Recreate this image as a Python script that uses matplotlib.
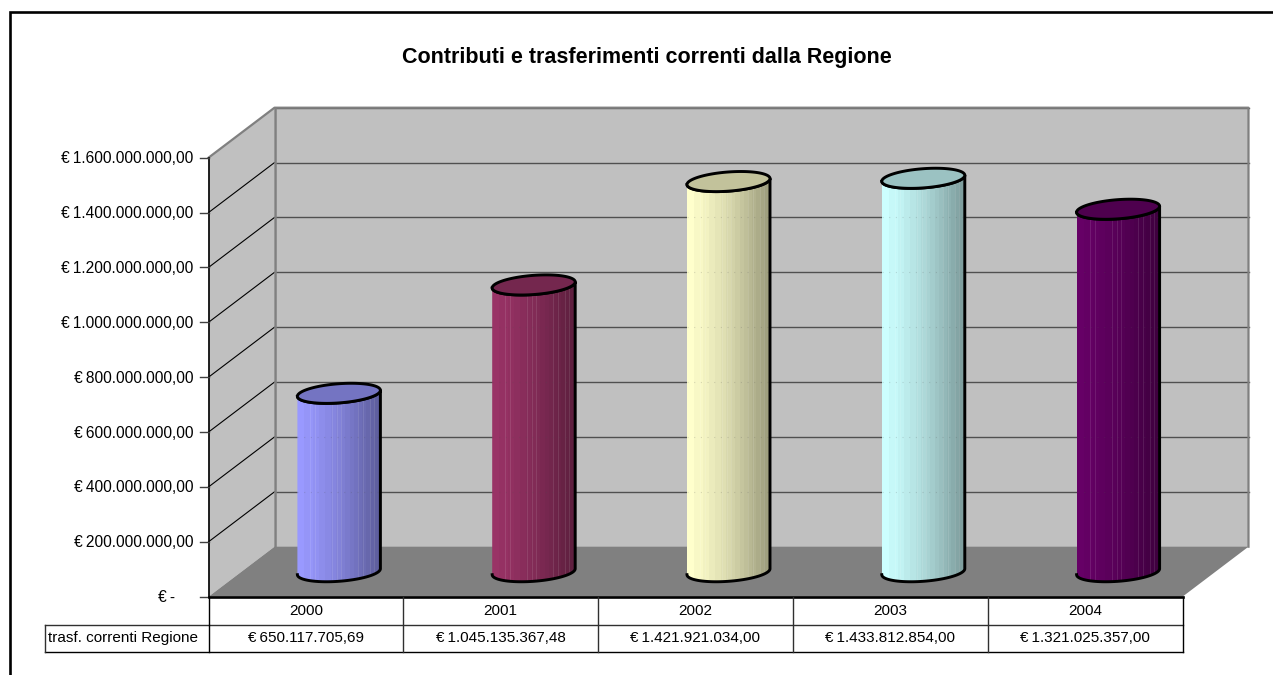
import numpy as np
import matplotlib
matplotlib.use('Agg')
import matplotlib.pyplot as plt
from matplotlib.patches import Polygon, PathPatch
from matplotlib.path import Path
from matplotlib.lines import Line2D

plt.rcParams['font.family'] = ['Liberation Sans', 'DejaVu Sans']

title = 'Contributi e trasferimenti correnti dalla Regione'
years = ['2000', '2001', '2002', '2003', '2004']
values = [650117705.69, 1045135367.48, 1421921034.00, 1433812854.00, 1321025357.00]
series_name = 'trasf. correnti Regione'
bar_colors = ['#9999FF', '#993366', '#FFFFCC', '#CCFFFF', '#660066']
tick_values = [0, 200e6, 400e6, 600e6, 800e6, 1000e6, 1200e6, 1400e6, 1600e6]
stripes = [.16, .22, .43, .49, .54, .74, .80, .88, .93]

W, H = 1273, 675
# front plane of the 3d box, in pixels
LEFT, RIGHT, TOP, BOTTOM = 208.5, 1182.5, 157.7, 596.7
XPX = 5 / (RIGHT - LEFT)
YPX = 1.6e9 / (BOTTOM - TOP)
DX, DY = 66 * XPX, 50 * YPX

fig = plt.figure(figsize=(W / 100, H / 100), dpi=100)
ax = fig.add_axes([LEFT / W, 1 - BOTTOM / H, (RIGHT - LEFT) / W, (BOTTOM - TOP) / H])
ax.axis('off')
top = 1.6e9


def euro(v):
    s = f'{v:,.2f}'.replace(',', 'X').replace('.', ',').replace('X', '.')
    return '€\u2009' + s


def shaded(color, f):
    return tuple(c * f for c in matplotlib.colors.to_rgb(color))


def seg(x, y, color='k', lw=1.0, z=2, **kw):
    ax.add_line(Line2D(x, y, color=color, lw=lw, zorder=z, clip_on=False, **kw))


def ellipse(cx, cy, t):
    a = 41.5 * XPX
    b = 9.6 * YPX
    k = 3 * YPX
    return cx + a * np.cos(t), cy + k * np.cos(t) + b * np.sin(t)


# walls and floor
wall = '#C0C0C0'
edge = '#808080'
ax.add_patch(Polygon([(0, 0), (DX, DY), (DX, top + DY), (0, top)], fc=wall, ec='none', zorder=1, clip_on=False))
ax.add_patch(Polygon([(DX, DY), (5 + DX, DY), (5 + DX, top + DY), (DX, top + DY)], fc=wall, ec='none', zorder=1, clip_on=False))

for v in tick_values[1:-1]:
    seg([0, DX], [v, v + DY], lw=0.8, z=2)
    seg([DX, 5 + DX], [v + DY, v + DY], color='#505050', lw=1.0, z=2)
seg([DX, 5 + DX], [top + DY, top + DY], color='#505050', lw=1.0, z=2)

seg([0, DX, 5 + DX, 5 + DX], [top, top + DY, top + DY, DY], color=edge, lw=1.6, z=2)
seg([DX, DX], [DY, top + DY], color=edge, lw=1.8, z=2)
ax.add_patch(Polygon([(0, 0), (DX, DY), (5 + DX, DY), (5, 0)], fc=edge, ec='none', zorder=3, clip_on=False))
seg([0, 0], [0, top], lw=1.2, z=4)

# tick marks and labels on the value axis
for v in tick_values:
    seg([-8.5 * XPX, 0], [v, v], color='#404040', lw=1.0, z=4)
    label = euro(v) if v > 0 else '€\u2009-'
    right = -15.5 * XPX if v > 0 else -33 * XPX
    ax.text(right, v - YPX, label, ha='right', va='center', fontsize=11.2, color='k', clip_on=False)

# cylinders
t_full = np.linspace(0, 2 * np.pi, 120)
t_low = np.linspace(np.pi, 2 * np.pi, 60)
t_up = np.linspace(2 * np.pi, np.pi, 60)
for i, (val, col) in enumerate(zip(values, bar_colors)):
    cx = i + 0.5 + DX / 2
    cy0 = DY / 2
    cy1 = val + DY / 2
    xb, yb = ellipse(cx, cy0, t_low)
    xt, yt = ellipse(cx, cy1, t_up)
    outline = np.column_stack([np.r_[xb, xt], np.r_[yb, yt]])
    body = PathPatch(Path(np.vstack([outline, outline[0]])), fc='none', ec='none', zorder=5, clip_on=False)
    ax.add_patch(body)

    # horizontal shading in bands, with the thin lighter lines
    n = 83
    factors = np.round((1 - 0.4 * np.linspace(0, 1, n) ** 1.4) * 40) / 40
    grad = np.array([shaded(col, f) for f in factors])
    for s in stripes:
        j = int(s * n)
        grad[j] = grad[j] + (1 - grad[j]) * 0.1
    a = 41.5 * XPX
    y_lo, y_hi = yb.min() - YPX, cy1 + 12 * YPX
    im = ax.imshow(grad[np.newaxis, :, :], extent=[cx - a, cx + a, y_lo, y_hi], aspect='auto',
                   interpolation='nearest', zorder=5)
    im.set_clip_path(body)

    # gridlines show faintly through the tube
    for v in tick_values[1:]:
        gy = v + DY
        if gy < cy1:
            line, = ax.plot([cx - a, cx + a], [gy, gy], color='#505050', lw=0.8, ls=(0, (1, 5)),
                            alpha=0.2, zorder=5.5)

    ax.plot(outline[:, 0], outline[:, 1], color='k', lw=2.1, zorder=6, clip_on=False, solid_joinstyle='round')
    xe, ye = ellipse(cx, cy1, t_full)
    ax.add_patch(Polygon(np.column_stack([xe, ye]), closed=True, fc=shaded(col, 0.76), ec='k', lw=2.1,
                         zorder=7, clip_on=False))

# data table under the floor
row1 = -28 * YPX
row2 = -55.5 * YPX
label_left = -163.5 * XPX
seg([0, 5], [0, 0], lw=1.9, z=8)
seg([0, 5], [row1, row1], color='#303030', lw=1.0, z=8)
seg([label_left, 5], [row2, row2], lw=1.0, z=8)
seg([label_left, 0], [row1, row1], color='#303030', lw=1.0, z=8)
seg([label_left, label_left], [row1, row2], color='#303030', lw=1.0, z=8)
for i in range(6):
    seg([i, i], [0, row2], color='k' if i in (0, 5) else '#303030', lw=1.0, z=8)
for i, (y, val) in enumerate(zip(years, values)):
    ax.text(i + 0.5, row1 / 2, y, ha='center', va='center', fontsize=11, clip_on=False)
    ax.text(i + 0.5, (row1 + row2) / 2 + 0.5 * YPX, euro(val), ha='center', va='center', fontsize=11, clip_on=False)
ax.text(label_left + 3 * XPX, (row1 + row2) / 2, series_name, ha='left', va='center', fontsize=11, clip_on=False)

ax.set_xlim(0, 5)
ax.set_ylim(0, top)

# chart title and outer frame
fig.text(647 / W, 1 - 58 / H, title, ha='center', va='center', fontsize=15.5, fontweight='bold')
fig.add_artist(Line2D([10 / W, 10 / W, 1], [0, 1 - 12 / H, 1 - 12 / H], color='k', lw=1.9,
                      transform=fig.transFigure, solid_joinstyle='miter'))

fig.savefig('out.png', dpi=100)
